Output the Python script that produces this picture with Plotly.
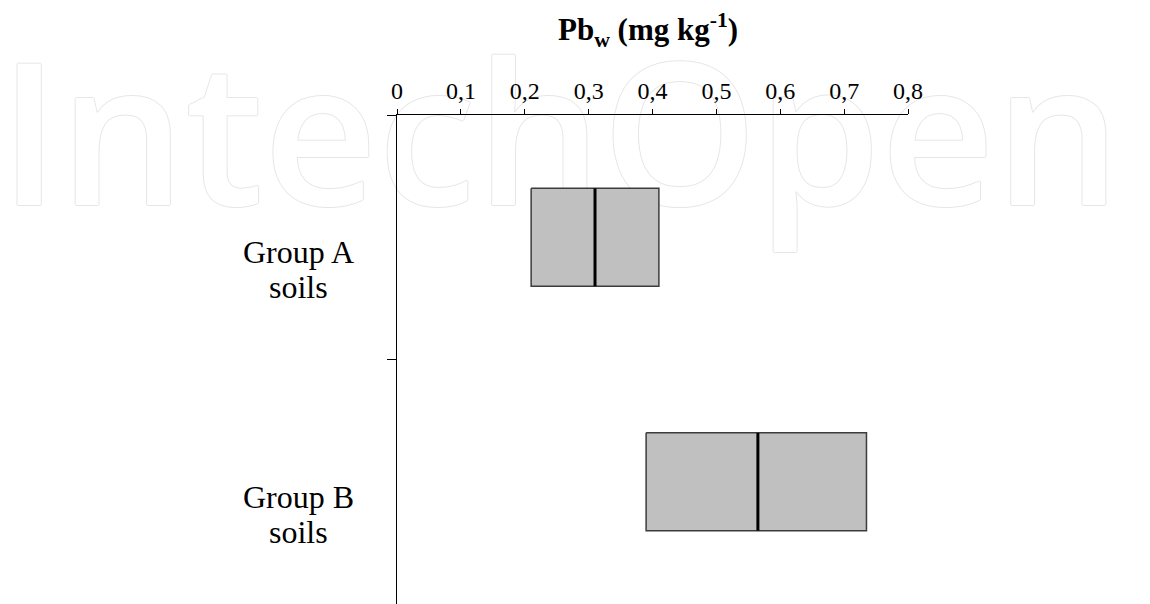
import plotly.graph_objects as go

# ---- data ----
categories = ["Group A<br>soils", "Group B<br>soils"]
q1_values = [0.21, 0.39]
median_values = [0.31, 0.565]
q3_values = [0.41, 0.735]
x_tick_values = [0, 0.1, 0.2, 0.3, 0.4, 0.5, 0.6, 0.7, 0.8]
x_tick_labels = ["0", "0,1", "0,2", "0,3", "0,4", "0,5", "0,6", "0,7", "0,8"]
axis_title = "<b>Pb<sub>w</sub> (mg kg<sup>-1</sup>)</b>"
watermark = "IntechOpen"

# ---- styling ----
SERIF = "Liberation Serif"
BOX_HALF = 0.2
BOX_FILL = "#c0c0c0"
BOX_LINE = "#3c3c3c"
WM = "#e6e6e6"

fig = go.Figure()

# faint outlined watermark (drawn first, behind the boxes)
fig.add_trace(go.Scatter(
    x=[0.255], y=[0.165], mode="text", text=[watermark],
    textposition="middle center", cliponaxis=False, hoverinfo="skip",
    showlegend=False,
    textfont=dict(family="Open Sans", size=198, weight=600, color="white",
                  shadow=f"1px 0 0 {WM}, -1px 0 0 {WM}, 0 1px 0 {WM}, 0 -1px 0 {WM}"),
))

for i, cat in enumerate(categories):
    c = i + 0.5
    lo, med, hi = q1_values[i], median_values[i], q3_values[i]
    fig.add_trace(go.Scatter(
        x=[lo, hi, hi, lo, lo],
        y=[c - BOX_HALF, c - BOX_HALF, c + BOX_HALF, c + BOX_HALF, c - BOX_HALF],
        mode="lines", fill="toself", fillcolor=BOX_FILL,
        line=dict(color=BOX_LINE, width=1.5), showlegend=False, hoverinfo="skip",
    ))
    fig.add_trace(go.Scatter(
        x=[med, med], y=[c - BOX_HALF, c + BOX_HALF], mode="lines",
        line=dict(color="black", width=3), showlegend=False, hoverinfo="skip",
    ))
    for j, line in enumerate(cat.split("<br>")):
        fig.add_annotation(
            xref="paper", yref="y", x=-0.1918, y=c, yshift=-15 - 35 * j,
            text=line, showarrow=False, xanchor="center", yanchor="middle",
            font=dict(family=SERIF, size=32, color="black"),
        )

fig.add_annotation(
    xref="paper", yref="paper", x=0.491, y=1.174, text=axis_title,
    showarrow=False, xanchor="center", yanchor="middle",
    font=dict(family=SERIF, size=31, color="black"),
)

fig.update_layout(
    width=1150, height=604,
    margin=dict(l=389, r=250, t=107, b=8, pad=0),
    paper_bgcolor="white", plot_bgcolor="white",
    showlegend=False,
    xaxis=dict(
        side="top", range=[0, 0.8], tickmode="array",
        tickvals=x_tick_values, ticktext=x_tick_labels,
        ticks="outside", ticklen=5, tickwidth=1, tickcolor="black",
        showline=True, linecolor="black", linewidth=1.2,
        showgrid=False, zeroline=False,
        tickfont=dict(family=SERIF, size=24, color="black"),
    ),
    yaxis=dict(
        range=[2, 0], tickmode="array", tickvals=[0, 1, 2],
        ticks="outside", ticklen=9, tickwidth=1.2, tickcolor="black",
        showticklabels=False, showline=True, linecolor="black", linewidth=1.2,
        showgrid=False, zeroline=False,
    ),
)

fig.write_html("out.html")
